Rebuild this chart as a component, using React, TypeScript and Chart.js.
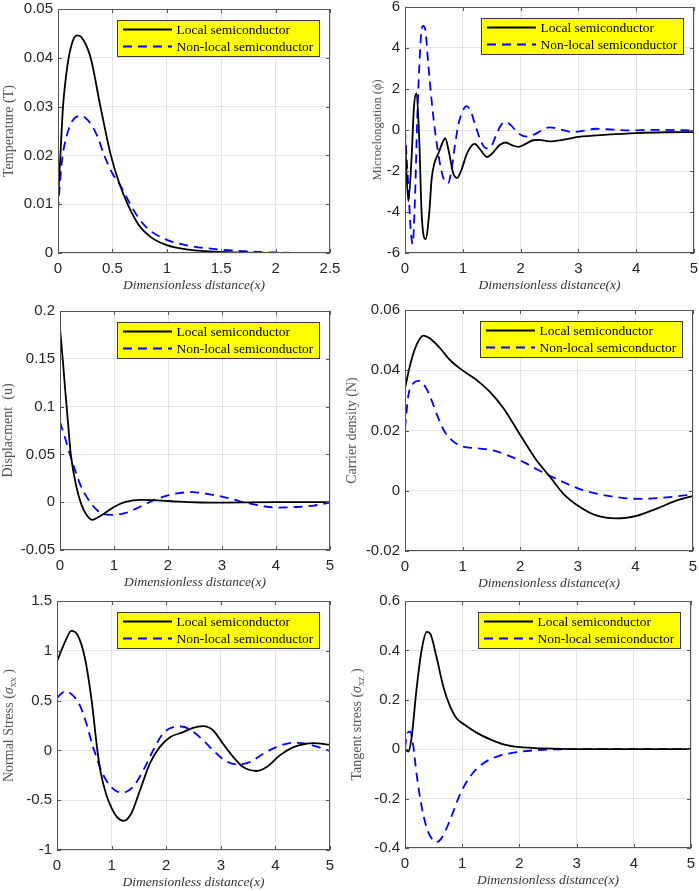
import React, { useEffect, useRef } from "react";
import { Chart, registerables } from "chart.js";

Chart.register(...registerables);

const LOCAL_LABEL = "Local semiconductor";
const NONLOCAL_LABEL = "Non-local semiconductor";
const X_LABEL = "Dimensionless distance(x)";

// Temperature (T)
const tempLocalX = [0, 0.022, 0.046, 0.07, 0.098, 0.14, 0.178, 0.22, 0.3, 0.39, 0.486, 0.56, 0.64, 0.74, 0.85, 1.0, 1.2, 1.5, 2.0, 2.5];
const tempLocalY = [0.011, 0.02, 0.03, 0.0355, 0.04, 0.0437, 0.0446, 0.0441, 0.04, 0.03, 0.02, 0.0145, 0.01, 0.0058, 0.0033, 0.0016, 0.0007, 0.0002, 0, 0];
const tempNonLocalX = [0, 0.02, 0.043, 0.08, 0.13, 0.215, 0.3, 0.36, 0.425, 0.5, 0.585, 0.652, 0.74, 0.83, 1.0, 1.2, 1.5, 2.0, 2.5];
const tempNonLocalY = [0.0087, 0.015, 0.02, 0.024, 0.027, 0.0281, 0.0265, 0.024, 0.02, 0.0163, 0.0134, 0.0105, 0.0072, 0.0049, 0.0027, 0.0015, 0.0007, 0.0001, 0];

// Microelongation (phi)
const microLocalX = [0, 0.057, 0.115, 0.155, 0.2, 0.247, 0.287, 0.356, 0.42, 0.46, 0.506, 0.575, 0.65, 0.695, 0.764, 0.833, 0.902, 0.977, 1.063, 1.15, 1.207, 1.293, 1.42, 1.523, 1.638, 1.741, 1.868, 1.96, 2.086, 2.213, 2.33, 2.5, 2.75, 3.0, 3.5, 4.0, 4.5, 5.0];
const microLocalY = [-0.3, -3.47, -1.29, 1.13, 1.8, -0.48, -4.03, -5.32, -4.03, -2.42, -1.65, -1.16, -0.61, -0.4, -1.13, -2.1, -2.34, -1.94, -1.21, -0.77, -0.68, -0.92, -1.32, -1.1, -0.73, -0.61, -0.76, -0.82, -0.68, -0.5, -0.48, -0.55, -0.47, -0.34, -0.23, -0.15, -0.11, -0.1];
const microNonLocalX = [0, 0.057, 0.098, 0.132, 0.172, 0.213, 0.247, 0.282, 0.316, 0.35, 0.402, 0.46, 0.517, 0.575, 0.632, 0.7, 0.747, 0.805, 0.862, 0.93, 1.006, 1.063, 1.13, 1.207, 1.293, 1.36, 1.42, 1.494, 1.58, 1.667, 1.753, 1.839, 1.925, 2.04, 2.126, 2.241, 2.356, 2.5, 2.7, 2.9, 3.1, 3.3, 3.6, 3.9, 4.3, 5.0];
const microNonLocalY = [0, -2.74, -4.84, -5.56, -3.39, 0.65, 3.06, 4.76, 5.08, 4.92, 3.23, 1.45, 0, -1.13, -2.02, -2.55, -2.58, -1.94, -0.79, 0.34, 0.97, 1.16, 0.97, 0.32, -0.4, -0.79, -0.9, -0.79, -0.23, 0.26, 0.37, 0.21, -0.06, -0.29, -0.32, -0.21, -0.03, 0.13, 0.02, -0.1, -0.03, 0.06, 0.02, -0.02, 0.01, -0.02];

// Displacement (u)
const dispLocalX = [0, 0.05, 0.1, 0.15, 0.2, 0.3, 0.4, 0.5, 0.6, 0.7, 0.8, 1.0, 1.2, 1.5, 1.8, 2.2, 2.6, 3.0, 4.0, 5.0];
const dispLocalY = [0.182, 0.15, 0.115, 0.082, 0.05, 0.017, -0.003, -0.014, -0.0185, -0.016, -0.0125, -0.005, 0.0, 0.0025, 0.002, 0.0005, -0.0003, -0.0005, 0, 0];
const dispNonLocalX = [0, 0.1, 0.2, 0.3, 0.4, 0.5, 0.6, 0.7, 0.8, 0.95, 1.2, 1.4, 1.6, 1.8, 2.0, 2.2, 2.45, 2.8, 3.0, 3.2, 3.4, 3.6, 3.8, 4.05, 4.4, 4.7, 5.0];
const dispNonLocalY = [0.084, 0.066, 0.047, 0.03, 0.015, 0.005, -0.003, -0.009, -0.0125, -0.0132, -0.0115, -0.007, -0.0015, 0.0035, 0.0072, 0.0095, 0.0105, 0.008, 0.0058, 0.003, 0, -0.0025, -0.0045, -0.0056, -0.005, -0.0035, -0.0005];

// Carrier density (N)
const carrierLocalX = [0, 0.09, 0.2, 0.32, 0.43, 0.61, 0.78, 1.01, 1.24, 1.47, 1.71, 2.0, 2.28, 2.51, 2.75, 3.03, 3.32, 3.67, 4.02, 4.36, 4.71, 5.0];
const carrierLocalY = [0.034, 0.0418, 0.0484, 0.0515, 0.0506, 0.0473, 0.0434, 0.0398, 0.0368, 0.0329, 0.0274, 0.0185, 0.0102, 0.0048, -0.001, -0.0053, -0.0082, -0.0092, -0.0083, -0.006, -0.0033, -0.0017];
const carrierNonLocalX = [0, 0.06, 0.145, 0.23, 0.35, 0.46, 0.58, 0.69, 0.81, 0.98, 1.24, 1.53, 1.76, 2.05, 2.28, 2.51, 2.8, 3.09, 3.44, 3.84, 4.13, 4.54, 5.0];
const carrierNonLocalY = [0.0207, 0.0318, 0.0357, 0.0365, 0.0346, 0.0301, 0.024, 0.0196, 0.0168, 0.0148, 0.0141, 0.0134, 0.0119, 0.0096, 0.0072, 0.005, 0.0024, 0.0002, -0.0014, -0.0025, -0.0027, -0.0022, -0.0012];

// Normal stress (sigma_xx)
const normalLocalX = [0, 0.17, 0.26, 0.385, 0.51, 0.63, 0.74, 0.8, 0.9, 1.0, 1.1, 1.22, 1.36, 1.52, 1.7, 1.88, 2.07, 2.31, 2.49, 2.68, 2.86, 3.04, 3.23, 3.41, 3.66, 3.84, 4.08, 4.33, 4.57, 4.69, 5.0];
const normalLocalY = [0.893, 1.117, 1.2, 1.15, 0.93, 0.52, 0.0, -0.22, -0.44, -0.58, -0.67, -0.707, -0.633, -0.4, -0.133, 0.033, 0.133, 0.183, 0.227, 0.243, 0.2, 0.067, -0.067, -0.167, -0.207, -0.167, -0.05, 0.033, 0.067, 0.073, 0.057];
const normalNonLocalX = [0, 0.14, 0.26, 0.42, 0.54, 0.66, 0.7, 0.78, 0.9, 1.06, 1.21, 1.39, 1.58, 1.76, 1.94, 2.13, 2.28, 2.46, 2.68, 2.86, 3.07, 3.29, 3.53, 3.78, 4.02, 4.33, 4.57, 4.82, 5.0];
const normalNonLocalY = [0.527, 0.59, 0.567, 0.45, 0.267, 0.033, -0.03, -0.16, -0.3, -0.4, -0.423, -0.367, -0.2, 0, 0.167, 0.233, 0.24, 0.2, 0.1, 0, -0.1, -0.14, -0.117, -0.033, 0.033, 0.077, 0.067, 0.027, -0.007];

// Tangent stress (sigma_xz)
const tangentLocalX = [0, 0.058, 0.117, 0.2, 0.29, 0.38, 0.44, 0.55, 0.67, 0.79, 0.9, 1.05, 1.25, 1.49, 1.72, 2.01, 2.42, 3.0, 4.0, 5.0];
const tangentLocalY = [0, -0.01, 0.05, 0.24, 0.4, 0.475, 0.468, 0.374, 0.253, 0.172, 0.125, 0.098, 0.067, 0.04, 0.02, 0.008, 0.003, 0, 0, 0];
const tangentNonLocalX = [0, 0.04, 0.088, 0.146, 0.2, 0.29, 0.38, 0.47, 0.54, 0.64, 0.79, 0.96, 1.14, 1.37, 1.66, 1.95, 2.3, 2.83, 4.0, 5.0];
const tangentNonLocalY = [0.004, 0.065, 0.071, 0.011, -0.097, -0.231, -0.319, -0.363, -0.377, -0.36, -0.285, -0.184, -0.11, -0.057, -0.026, -0.012, -0.004, 0, 0, 0];

const SANS = "'Liberation Sans', Arial, sans-serif";
const SERIF = "'Liberation Serif', 'Times New Roman', serif";
const TICK_COLOR = "#262626";
const GRID_COLOR = "#e4e4e4";
const AXIS_COLOR = "#555555";

type Seg = { t: string; italic?: boolean; sub?: boolean };
type Rect = { l: number; t: number; r: number; b: number };
type Panel = {
  id: string;
  cell: Rect;
  plot: Rect;
  xMax: number;
  xStep: number;
  yMin: number;
  yMax: number;
  yStep: number;
  yLabel: Seg[];
  yGap: number;
  ySize: number;
  local: [number[], number[]];
  nonLocal: [number[], number[]];
};

const panels: Panel[] = [
  {
    id: "temp", cell: { l: 0, t: 0, r: 350, b: 300 }, plot: { l: 58, t: 9, r: 330, b: 253 },
    xMax: 2.5, xStep: 0.5, yMin: 0, yMax: 0.05, yStep: 0.01,
    yLabel: [{ t: "Temperature (T)" }], yGap: 48.7, ySize: 14,
    local: [tempLocalX, tempLocalY], nonLocal: [tempNonLocalX, tempNonLocalY],
  },
  {
    id: "micro", cell: { l: 336, t: 0, r: 699, b: 300 }, plot: { l: 405, t: 7, r: 694, b: 253 },
    xMax: 5, xStep: 1, yMin: -6, yMax: 6, yStep: 2,
    yLabel: [{ t: "Microelongation (" }, { t: "ϕ", italic: true }, { t: ")" }], yGap: 27.3, ySize: 12.5,
    local: [microLocalX, microLocalY], nonLocal: [microNonLocalX, microNonLocalY],
  },
  {
    id: "disp", cell: { l: 0, t: 292, r: 350, b: 596 }, plot: { l: 60, t: 311, r: 330, b: 550 },
    xMax: 5, xStep: 1, yMin: -0.05, yMax: 0.2, yStep: 0.05,
    yLabel: [{ t: "Displacment  (u)" }], yGap: 51.7, ySize: 14,
    local: [dispLocalX, dispLocalY], nonLocal: [dispNonLocalX, dispNonLocalY],
  },
  {
    id: "carrier", cell: { l: 336, t: 292, r: 699, b: 596 }, plot: { l: 405, t: 310, r: 693, b: 551 },
    xMax: 5, xStep: 1, yMin: -0.02, yMax: 0.06, yStep: 0.02,
    yLabel: [{ t: "Carrier density (N)" }], yGap: 52.3, ySize: 14,
    local: [carrierLocalX, carrierLocalY], nonLocal: [carrierNonLocalX, carrierNonLocalY],
  },
  {
    id: "normal", cell: { l: 0, t: 585, r: 350, b: 891 }, plot: { l: 57, t: 601, r: 330, b: 850 },
    xMax: 5, xStep: 1, yMin: -1, yMax: 1.5, yStep: 0.5,
    yLabel: [{ t: "Normal Stress (" }, { t: "σ", italic: true }, { t: "xx", sub: true }, { t: " )" }], yGap: 47.7, ySize: 14,
    local: [normalLocalX, normalLocalY], nonLocal: [normalNonLocalX, normalNonLocalY],
  },
  {
    id: "tangent", cell: { l: 336, t: 585, r: 699, b: 891 }, plot: { l: 405, t: 601, r: 691, b: 848 },
    xMax: 5, xStep: 1, yMin: -0.4, yMax: 0.6, yStep: 0.2,
    yLabel: [{ t: "Tangent stress (" }, { t: "σ", italic: true }, { t: "xz", sub: true }, { t: " )" }], yGap: 47.7, ySize: 14,
    local: [tangentLocalX, tangentLocalY], nonLocal: [tangentNonLocalX, tangentNonLocalY],
  },
];

const toPoints = (xs: number[], ys: number[]) => xs.map((x, i) => ({ x, y: ys[i] }));
const fmt = (v: number | string) => String(Math.round(Number(v) * 1e6) / 1e6);

function drawDecor(chart: any, p: Panel) {
  const { ctx, chartArea: a } = chart;
  const xs = chart.scales.x;
  const ys = chart.scales.y;
  ctx.save();

  // box and inward ticks
  ctx.strokeStyle = AXIS_COLOR;
  ctx.lineWidth = 1;
  ctx.setLineDash([]);
  ctx.beginPath();
  xs.ticks.forEach((t: any) => {
    const px = Math.round(xs.getPixelForValue(t.value)) + 0.5;
    ctx.moveTo(px, a.bottom);
    ctx.lineTo(px, a.bottom - 4);
    ctx.moveTo(px, a.top);
    ctx.lineTo(px, a.top + 4);
  });
  ys.ticks.forEach((t: any) => {
    const py = Math.round(ys.getPixelForValue(t.value)) + 0.5;
    ctx.moveTo(a.left, py);
    ctx.lineTo(a.left + 4, py);
    ctx.moveTo(a.right, py);
    ctx.lineTo(a.right - 4, py);
  });
  ctx.stroke();
  const l = Math.round(a.left), t = Math.round(a.top);
  ctx.strokeRect(l + 0.5, t + 0.5, Math.round(a.right) - l - 1, Math.round(a.bottom) - t - 1);

  // legend
  const w = 203, h = 37;
  const bx = Math.round(a.right - 10 - w), by = Math.round(a.top + 11);
  ctx.fillStyle = "#ffff00";
  ctx.fillRect(bx, by, w, h);
  ctx.strokeStyle = "#3a3a3a";
  ctx.strokeRect(bx + 0.5, by + 0.5, w - 1, h - 1);
  ctx.textAlign = "left";
  ctx.textBaseline = "middle";
  chart.data.datasets.forEach((ds: any, i: number) => {
    const y = by + 9.5 + i * 17;
    ctx.strokeStyle = ds.borderColor;
    ctx.lineWidth = 2;
    ctx.setLineDash(ds.borderDash || []);
    ctx.beginPath();
    ctx.moveTo(bx + 6, y);
    ctx.lineTo(bx + 55, y);
    ctx.stroke();
    ctx.setLineDash([]);
    ctx.fillStyle = "#000000";
    ctx.font = `13.5px ${SERIF}`;
    ctx.fillText(ds.label, bx + 59.5, y + 0.5);
  });

  // x label
  ctx.font = `italic 13.5px ${SERIF}`;
  ctx.fillStyle = "#333333";
  ctx.textAlign = "center";
  ctx.fillText(X_LABEL, (a.left + a.right) / 2, a.bottom + 32);

  // y label (rotated, with sub-scripts)
  const size = p.ySize;
  const fontFor = (s: Seg) => `${s.italic ? "italic " : ""}${s.sub ? size * 0.72 : size}px ${SERIF}`;
  ctx.translate(a.left - p.yGap, (a.top + a.bottom) / 2);
  ctx.rotate(-Math.PI / 2);
  ctx.textAlign = "left";
  ctx.fillStyle = "#555555";
  let total = 0;
  p.yLabel.forEach((s) => {
    ctx.font = fontFor(s);
    total += ctx.measureText(s.t).width;
  });
  let cx = -total / 2;
  p.yLabel.forEach((s) => {
    ctx.font = fontFor(s);
    ctx.fillText(s.t, cx, s.sub ? size * 0.3 : 0);
    cx += ctx.measureText(s.t).width;
  });
  ctx.restore();
}

function PanelChart({ panel }: { panel: Panel }) {
  const canvasRef = useRef<HTMLCanvasElement>(null);

  useEffect(() => {
    if (!canvasRef.current) return;
    const p = panel;
    const tickFont = { family: SANS, size: 15 };

    const chart = new Chart(canvasRef.current, {
      type: "line",
      data: {
        datasets: [
          {
            label: LOCAL_LABEL,
            data: toPoints(p.local[0], p.local[1]),
            borderColor: "#000000",
            borderWidth: 1.8,
            pointRadius: 0,
            cubicInterpolationMode: "monotone",
            fill: false,
          },
          {
            label: NONLOCAL_LABEL,
            data: toPoints(p.nonLocal[0], p.nonLocal[1]),
            borderColor: "#0000ff",
            borderWidth: 1.8,
            borderDash: [9, 6],
            pointRadius: 0,
            cubicInterpolationMode: "monotone",
            fill: false,
          },
        ],
      },
      options: {
        animation: false,
        responsive: true,
        maintainAspectRatio: false,
        events: [],
        layout: {
          padding: { left: 0, bottom: 0, top: p.plot.t - p.cell.t, right: p.cell.r - p.plot.r },
        },
        plugins: {
          legend: { display: false },
          tooltip: { enabled: false },
        },
        scales: {
          x: {
            type: "linear",
            min: 0,
            max: p.xMax,
            ticks: { stepSize: p.xStep, padding: 7, color: TICK_COLOR, font: tickFont, callback: fmt, maxRotation: 0, autoSkip: false },
            grid: { color: GRID_COLOR, drawTicks: false },
            border: { display: false },
            afterFit: (s: any) => {
              s.height = p.cell.b - p.plot.b;
              s.paddingLeft = 0;
              s.paddingRight = 0;
            },
          },
          y: {
            type: "linear",
            min: p.yMin,
            max: p.yMax,
            ticks: { stepSize: p.yStep, padding: 5, color: TICK_COLOR, font: tickFont, callback: fmt, autoSkip: false },
            grid: { color: GRID_COLOR, drawTicks: false },
            border: { display: false },
            afterFit: (s: any) => {
              s.width = p.plot.l - p.cell.l;
              s.paddingTop = 0;
              s.paddingBottom = 0;
            },
          },
        },
      },
      plugins: [{ id: "panelDecor", afterDraw: (c: any) => drawDecor(c, p) }],
    } as any);

    return () => chart.destroy();
  }, [panel]);

  const { cell } = panel;
  return (
    <div
      style={{
        position: "absolute",
        left: cell.l,
        top: cell.t,
        width: cell.r - cell.l,
        height: cell.b - cell.t,
      }}
    >
      <canvas ref={canvasRef} />
    </div>
  );
}

export default function App() {
  return (
    <div
      style={{
        position: "absolute",
        left: 0,
        top: 0,
        width: 699,
        height: 891,
        background: "#ffffff",
        overflow: "hidden",
      }}
    >
      {panels.map((p) => (
        <PanelChart key={p.id} panel={p} />
      ))}
    </div>
  );
}
